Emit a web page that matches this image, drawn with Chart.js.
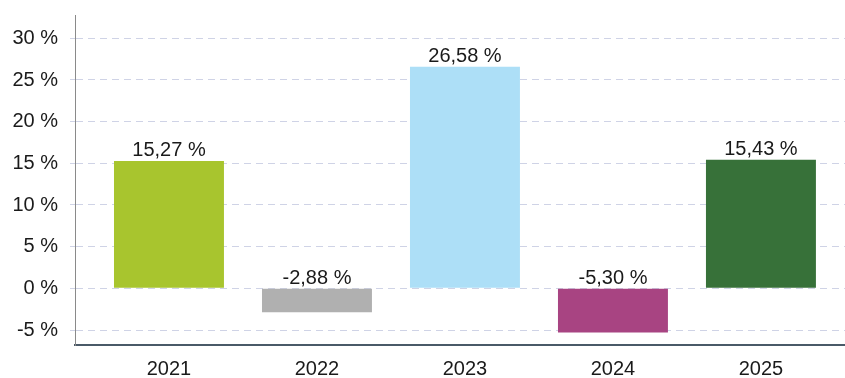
<!DOCTYPE html>
<html>
<head>
<meta charset="utf-8">
<script src="https://cdn.jsdelivr.net/npm/chart.js@4.4.1/dist/chart.umd.min.js"></script>
<style>
    html, body { margin: 0; padding: 0; background: #fff; }
    #wrap { width: 845px; height: 378px; }
</style>
</head>
<body>
<div id="wrap"><canvas id="RenditeChart" width="845" height="378"></canvas></div>
<script>
const years = ['2021', '2022', '2023', '2024', '2025'];
const returns = [15.27, -2.88, 26.58, -5.30, 15.43];
const barColors = ['#a8c52e', '#b0b0b0', '#addff7', '#a84482', '#377139'];
const yTicks = [-5, 0, 5, 10, 15, 20, 25, 30];

const fmtPct = (v, digits) => v.toFixed(digits).replace('.', ',') + ' %';

// Werte über den Balken (bei negativen Werten über der Nulllinie)
const valueLabels = {
    id: 'valueLabels',
    afterDatasetsDraw(chart) {
        const ctx = chart.ctx;
        const meta = chart.getDatasetMeta(0);
        ctx.save();
        ctx.font = '20px "Liberation Sans", Arial, sans-serif';
        ctx.fillStyle = '#1a1a1a';
        ctx.textAlign = 'center';
        ctx.textBaseline = 'alphabetic';
        meta.data.forEach((bar, i) => {
            const v = returns[i];
            const top = v >= 0 ? bar.y : bar.base;
            ctx.fillText(fmtPct(v, 2), bar.x, top - 5);
        });
        ctx.restore();
    }
};

const ctx = document.getElementById('RenditeChart').getContext('2d');

new Chart(ctx, {
    type: 'bar',
    data: {
        datasets: [{
            data: returns.map((v, i) => ({ x: i, y: v })),
            backgroundColor: barColors,
            borderWidth: 0,
            categoryPercentage: 1,
            barPercentage: 0.743
        }]
    },
    options: {
        responsive: false,
        animation: false,
        layout: { padding: { top: 15, right: 0, left: 0, bottom: 0 } },
        plugins: {
            legend: { display: false },
            tooltip: { enabled: false }
        },
        scales: {
            x: {
                type: 'linear',
                offset: false,
                min: -0.635,
                max: 4.568,
                afterBuildTicks: (scale) => {
                    scale.ticks = years.map((_, i) => ({ value: i }));
                },
                afterFit: (scale) => { scale.height = 33; },
                grid: { display: false, drawTicks: false },
                border: { display: true, color: '#4a5a68', width: 2 },
                ticks: {
                    padding: 12,
                    color: '#1a1a1a',
                    font: { family: '"Liberation Sans", Arial, sans-serif', size: 20 },
                    callback: (v) => years[v]
                }
            },
            y: {
                min: -6.8,
                max: 32.8,
                afterBuildTicks: (scale) => {
                    scale.ticks = yTicks.map(v => ({ value: v }));
                },
                afterFit: (scale) => {
                    scale.width = 75;
                    // keine Zusatzabstände für die äußeren Beschriftungen
                    scale.paddingTop = 0;
                    scale.paddingBottom = 0;
                },
                grid: {
                    color: '#cfd3e6',
                    lineWidth: 1,
                    tickLength: 5,
                    drawOnChartArea: true
                },
                border: { display: true, color: '#8a8a8a', width: 1, dash: [7, 5] },
                ticks: {
                    padding: 12,
                    color: '#1a1a1a',
                    font: { family: '"Liberation Sans", Arial, sans-serif', size: 20 },
                    callback: (v) => fmtPct(v, 0)
                }
            }
        }
    },
    plugins: [valueLabels]
});
</script>
</body>
</html>
